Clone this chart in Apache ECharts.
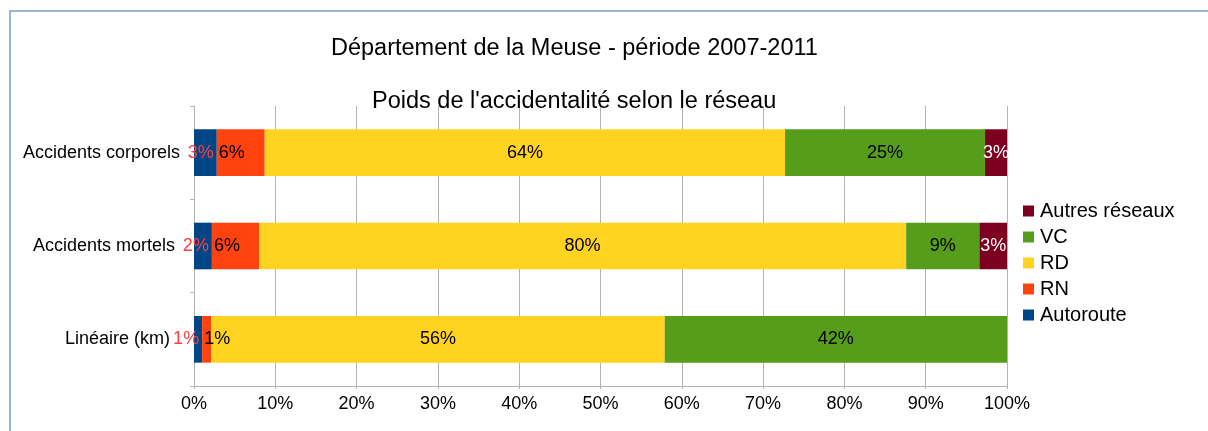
<!DOCTYPE html>
<html>
<head>
<meta charset="utf-8">
<script src="https://cdn.jsdelivr.net/npm/echarts@6/dist/echarts.min.js"></script>
<style>
  html, body { margin: 0; padding: 0; background: #fff; }
  #chart { width: 1208px; height: 431px; }
</style>
</head>
<body>
<div id="chart"></div>
<script>
// catégories (du haut vers le bas)
const categories = ["Accidents corporels", "Accidents mortels", "Linéaire (km)"];
// parts en % par réseau
const autoroute = [2.8, 2.2, 1.0];
const rn = [5.9, 5.8, 1.1];
const rd = [64.0, 79.6, 55.8];
const vc = [24.6, 9.0, 42.1];
const autres = [2.7, 3.4, 0];
const legendOrder = ["Autres réseaux", "VC", "RD", "RN", "Autoroute"];

const font = "Liberation Sans";
// espaces de fin comme dans l'original
const labelPad = ["", " ", "  "];
const chart = echarts.init(document.getElementById("chart"));

function pct(p) {
  return p.value > 0 ? Math.round(p.value) + "%" : "";
}

function serie(name, data, color, label) {
  return {
    name: name,
    type: "bar",
    stack: "total",
    barWidth: "50%",
    data: data,
    itemStyle: { color: color },
    label: Object.assign(
      { show: true, formatter: pct, fontFamily: font, fontSize: 18, color: "#000" },
      label
    ),
  };
}

const option = {
  animation: false,
  graphic: [
    {
      type: "rect",
      shape: { x: 10, y: 11, width: 1210, height: 440 },
      style: { fill: "none", stroke: "#729fcf", lineWidth: 1.5 },
    },
  ],
  title: [
    {
      text: "Département de la Meuse - période 2007-2011",
      left: 326,
      top: 32,
      textStyle: { fontFamily: font, fontSize: 23.5, fontWeight: "normal", color: "#000" },
    },
    {
      text: "Poids de l'accidentalité selon le réseau",
      left: 367,
      top: 85,
      textStyle: { fontFamily: font, fontSize: 23.5, fontWeight: "normal", color: "#000" },
    },
  ],
  legend: {
    orient: "vertical",
    left: 1018,
    top: 196,
    itemWidth: 11,
    itemHeight: 11,
    itemGap: 6,
    icon: "rect",
    data: legendOrder,
    textStyle: { fontFamily: font, fontSize: 20, color: "#000", padding: [0, 0, 0, 1] },
  },
  grid: { left: 194, right: 201, top: 106, bottom: 45 },
  xAxis: {
    type: "value",
    min: 0,
    max: 100,
    interval: 10,
    axisLine: { show: true, lineStyle: { color: "#b3b3b3" } },
    axisTick: { show: true, length: 3, lineStyle: { color: "#b3b3b3" } },
    splitLine: { lineStyle: { color: "#b3b3b3" } },
    axisLabel: {
      formatter: "{value}%",
      fontFamily: font,
      fontSize: 18,
      color: "#000",
      margin: 9,
    },
  },
  yAxis: {
    type: "category",
    inverse: true,
    data: categories,
    axisLine: { show: true, lineStyle: { color: "#b3b3b3" } },
    axisTick: { show: true, length: 4, lineStyle: { color: "#b3b3b3" } },
    axisLabel: {
      fontFamily: font,
      fontSize: 18,
      color: "#000",
      margin: 14,
      formatter: (value, i) => value + labelPad[i],
    },
  },
  series: [
    serie("Autoroute", autoroute, "#004586", { position: "insideRight", distance: 3, color: "#ff4040" }),
    serie("RN", rn, "#ff420e", { position: "insideLeft", distance: 2 }),
    serie("RD", rd, "#ffd320", { position: "inside" }),
    serie("VC", vc, "#579d1c", { position: "inside" }),
    serie("Autres réseaux", autres, "#7e0021", { position: "inside", color: "#fff" }),
  ],
};

chart.setOption(option);
</script>
</body>
</html>
